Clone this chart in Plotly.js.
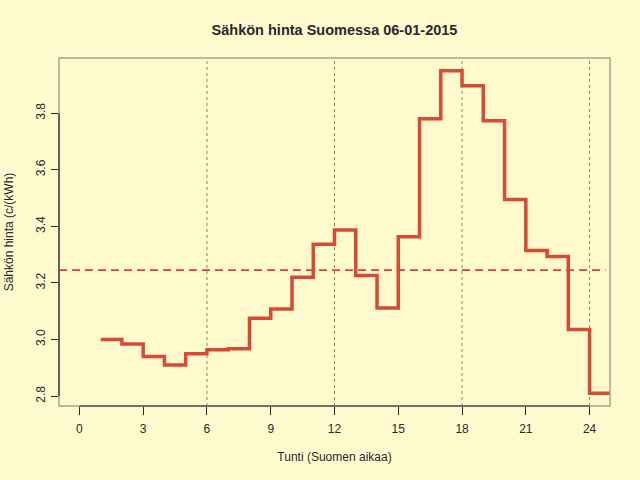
<!DOCTYPE html>
<html>
<head>
<meta charset="utf-8">
<script src="https://cdn.plot.ly/plotly-3.0.1.min.js"></script>
<style>
  html, body { margin: 0; padding: 0; background: #FFFACD; }
  #myDiv { width: 640px; height: 480px; }
</style>
</head>
<body>
<div id="myDiv"></div>
<script>
// hinta tunneittain, c/kWh (tunnit 1..24)
var hours = [1, 2, 3, 4, 5, 6, 7, 8, 9, 10, 11, 12, 13, 14, 15, 16, 17, 18, 19, 20, 21, 22, 23, 24];
var prices = [3.000, 2.984, 2.940, 2.910, 2.950, 2.964, 2.967, 3.075, 3.108, 3.220, 3.337, 3.387,
              3.226, 3.111, 3.363, 3.780, 3.950, 3.897, 3.773, 3.495, 3.315, 3.293, 3.035, 2.810];
var xTicks = [0, 3, 6, 9, 12, 15, 18, 21, 24];
var yTicks = [2.8, 3.0, 3.2, 3.4, 3.6, 3.8];
var yTickText = ['2.8', '3.0', '3.2', '3.4', '3.6', '3.8'];
var gridHours = [6, 12, 18, 24];

// step line: the last hour runs to hour 25
var stepX = hours.concat([hours[hours.length - 1] + 1]);
var stepY = prices.concat([prices[prices.length - 1]]);

var mean = prices.reduce(function (a, b) { return a + b; }, 0) / prices.length;

var font = 'Liberation Sans, Arial, Helvetica, sans-serif';
var dark = '#2b2630';

var trace1 = {
    x: stepX,
    y: stepY,
    type: 'scatter',
    mode: 'lines',
    line: { shape: 'hv', color: '#D64B34', width: 3.5 },
    hoverinfo: 'x+y'
};

var shapes = [];
gridHours.forEach(function (h) {
    shapes.push({
        type: 'line', xref: 'x', yref: 'paper', x0: h, x1: h, y0: 0, y1: 1,
        line: { color: '#8a8478', width: 1, dash: 'dot' }, layer: 'below'
    });
});
// mean price
shapes.push({
    type: 'line', xref: 'paper', yref: 'y', x0: 0, x1: 0.992, y0: mean, y1: mean,
    line: { color: '#E0403A', width: 1.6, dash: '8px,5px' }
});
// grey box
shapes.push({
    type: 'rect', xref: 'paper', yref: 'paper', x0: 0, x1: 1, y0: 0, y1: 1,
    line: { color: '#a8a290', width: 1.5 }
});
// axis lines from first to last tick
shapes.push({
    type: 'line', xref: 'x', yref: 'paper', x0: xTicks[0], x1: xTicks[xTicks.length - 1], y0: 0, y1: 0,
    line: { color: dark, width: 1.2 }
});
shapes.push({
    type: 'line', xref: 'paper', yref: 'y', x0: 0, x1: 0, y0: yTicks[0], y1: yTicks[yTicks.length - 1],
    line: { color: dark, width: 1.2 }
});

var layout = {
    width: 640,
    height: 480,
    paper_bgcolor: '#FFFACD',
    plot_bgcolor: '#FFFACD',
    showlegend: false,
    margin: { l: 59, r: 30, t: 58, b: 74 },
    font: { family: font, color: dark, size: 12 },
    title: {
        text: '<b>Sähkön hinta Suomessa 06-01-2015</b>',
        font: { family: font, size: 14.5, color: dark },
        x: 0.5, xref: 'paper', xanchor: 'center',
        y: 1 - 30 / 480, yref: 'container', yanchor: 'middle'
    },
    xaxis: {
        range: [-0.96, 24.96],
        tickmode: 'array',
        tickvals: xTicks,
        ticktext: xTicks.map(String),
        ticks: 'outside',
        ticklen: 8,
        tickwidth: 1,
        tickcolor: dark,
        ticklabelstandoff: 4,
        showgrid: false,
        zeroline: false,
        showline: false,
        tickfont: { family: font, size: 12, color: dark },
        title: { text: 'Tunti (Suomen aikaa)', font: { family: font, size: 12, color: dark }, standoff: 17 }
    },
    yaxis: {
        range: [2.765, 3.995],
        tickmode: 'array',
        tickvals: yTicks,
        ticktext: yTickText,
        tickangle: -90,
        ticks: 'outside',
        ticklen: 7,
        tickwidth: 1,
        tickcolor: dark,
        ticklabelstandoff: 1,
        showgrid: false,
        zeroline: false,
        showline: false,
        tickfont: { family: font, size: 12, color: dark },
        title: { text: 'Sähkön hinta (c/(kWh)', font: { family: font, size: 12, color: dark }, standoff: 18 }
    },
    shapes: shapes
};

Plotly.newPlot('myDiv', [trace1], layout, { displayModeBar: false, staticPlot: true });
</script>
</body>
</html>
